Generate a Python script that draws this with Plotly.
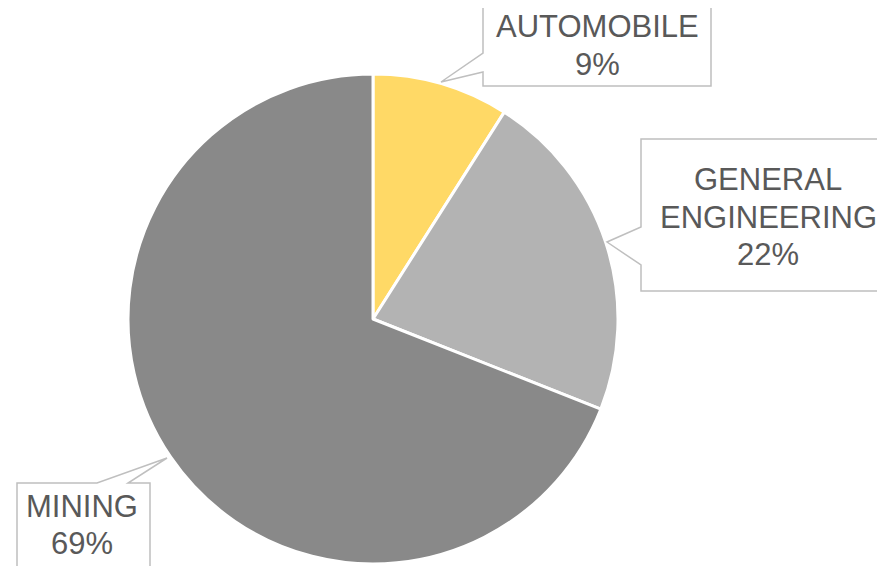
import plotly.graph_objects as go

categories = ["AUTOMOBILE", "GENERAL ENGINEERING", "MINING"]
values = [9, 22, 69]
colors = ["#FFD966", "#B3B3B3", "#898989"]
label_lines = [["AUTOMOBILE", "9%"], ["GENERAL", "ENGINEERING", "22%"], ["MINING", "69%"]]

W, H = 885, 566
OFF = 8  # page body margin in the screenshot

fig = go.Figure()
fig.add_trace(go.Pie(
    labels=categories, values=values, sort=False, direction="clockwise",
    rotation=0, textinfo="none", hoverinfo="label+percent",
    marker=dict(colors=colors, line=dict(color="white", width=3)),
    domain=dict(x=[(128 - OFF) / W, (618 - OFF) / W],
                y=[1 - (564 - OFF) / H, 1 - (74 - OFF) / H]),
    showlegend=False,
))

# callout boxes (pixel-space helper axes, reference image coordinates)
callouts = [
    "M 483,4 L 711,4 L 711,86 L 483,86 L 483,72 L 441,82 L 483,53 Z",
    "M 641,139 L 900,139 L 900,291 L 641,291 L 641,265 L 607,242 L 641,227 Z",
    "M 17,483 L 97,483 L 167,458 L 128,483 L 150,483 L 150,580 L 17,580 Z",
]
for p in callouts:
    fig.add_shape(type="path", path=p, xref="x", yref="y",
                  line=dict(color="#BFBFBF", width=1.5), fillcolor="white", layer="above")

label_pos = [(597, [26, 64]), (768, [179, 217, 254]), (82, [506, 543])]
for (x, ys), lines in zip(label_pos, label_lines):
    for y, t in zip(ys, lines):
        fig.add_annotation(x=x, y=y, xref="x", yref="y", text=t, showarrow=False,
                           xanchor="center", yanchor="middle", align="center",
                           font=dict(family="Liberation Sans, Arial", size=31, color="#595959"))

fig.update_layout(
    width=W, height=H, margin=dict(l=0, r=0, t=0, b=0),
    paper_bgcolor="white", plot_bgcolor="rgba(0,0,0,0)",
    xaxis=dict(range=[OFF, W + OFF], visible=False, domain=[0, 1], fixedrange=True),
    yaxis=dict(range=[H + OFF, OFF], visible=False, domain=[0, 1], fixedrange=True),
)

fig.write_html("out.html")
